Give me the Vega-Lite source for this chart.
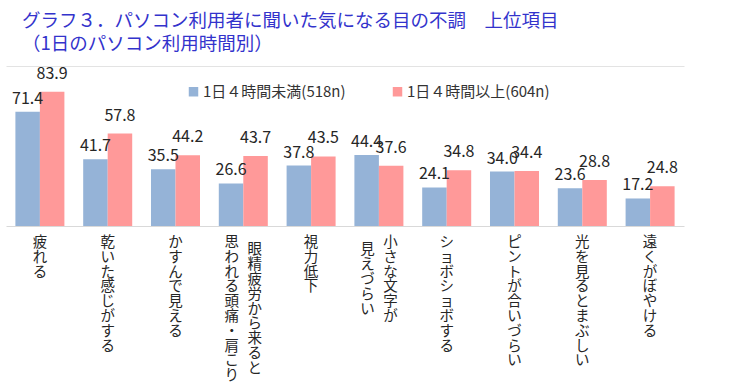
{
  "$schema": "https://vega.github.io/schema/vega-lite/v6.json",
  "width": 678,
  "height": 160,
  "autosize": {"type": "none"},
  "padding": {"left": 6, "top": 66, "right": 68, "bottom": 163},
  "background": "#ffffff",
  "config": {
    "view": {"stroke": null},
    "font": "Noto Sans CJK JP"
  },
  "title": {
    "text": ["グラフ３．パソコン利用者に聞いた気になる目の不調　上位項目", "（1日のパソコン利用時間別）"],
    "anchor": "start",
    "frame": "group",
    "font": "Noto Sans CJK JP",
    "fontSize": 18.5,
    "fontWeight": "normal",
    "color": "#3333cc",
    "lineHeight": 23,
    "baseline": "top",
    "dx": 16,
    "offset": 12
  },
  "datasets": {
    "bars": [
      {"cat": "疲れる", "group": "1日４時間未満(518n)", "value": 71.4},
      {"cat": "疲れる", "group": "1日４時間以上(604n)", "value": 83.9},
      {"cat": "乾いた感じがする", "group": "1日４時間未満(518n)", "value": 41.7},
      {"cat": "乾いた感じがする", "group": "1日４時間以上(604n)", "value": 57.8},
      {"cat": "かすんで見える", "group": "1日４時間未満(518n)", "value": 35.5},
      {"cat": "かすんで見える", "group": "1日４時間以上(604n)", "value": 44.2},
      {"cat": "眼精疲労から来ると思われる頭痛・肩こり", "group": "1日４時間未満(518n)", "value": 26.6},
      {"cat": "眼精疲労から来ると思われる頭痛・肩こり", "group": "1日４時間以上(604n)", "value": 43.7},
      {"cat": "視力低下", "group": "1日４時間未満(518n)", "value": 37.8},
      {"cat": "視力低下", "group": "1日４時間以上(604n)", "value": 43.5},
      {"cat": "小さな文字が見えづらい", "group": "1日４時間未満(518n)", "value": 44.4},
      {"cat": "小さな文字が見えづらい", "group": "1日４時間以上(604n)", "value": 37.6},
      {"cat": "ショボショボする", "group": "1日４時間未満(518n)", "value": 24.1},
      {"cat": "ショボショボする", "group": "1日４時間以上(604n)", "value": 34.8},
      {"cat": "ピントが合いづらい", "group": "1日４時間未満(518n)", "value": 34.0},
      {"cat": "ピントが合いづらい", "group": "1日４時間以上(604n)", "value": 34.4},
      {"cat": "光を見るとまぶしい", "group": "1日４時間未満(518n)", "value": 23.6},
      {"cat": "光を見るとまぶしい", "group": "1日４時間以上(604n)", "value": 28.8},
      {"cat": "遠くがぼやける", "group": "1日４時間未満(518n)", "value": 17.2},
      {"cat": "遠くがぼやける", "group": "1日４時間以上(604n)", "value": 24.8}
    ],
    "labels": [
      {"cat": "疲れる", "r": "疲れる", "l": ""},
      {"cat": "乾いた感じがする", "r": "乾いた感じがする", "l": ""},
      {"cat": "かすんで見える", "r": "かすんで見える", "l": ""},
      {"cat": "眼精疲労から来ると思われる頭痛・肩こり", "r": "眼精疲労から来ると", "l": "思われる頭痛・肩こり"},
      {"cat": "視力低下", "r": "視力低下", "l": ""},
      {"cat": "小さな文字が見えづらい", "r": "小さな文字が", "l": "見えづらい"},
      {"cat": "ショボショボする", "r": "ショボショボする", "l": ""},
      {"cat": "ピントが合いづらい", "r": "ピントが合いづらい", "l": ""},
      {"cat": "光を見るとまぶしい", "r": "光を見るとまぶしい", "l": ""},
      {"cat": "遠くがぼやける", "r": "遠くがぼやける", "l": ""}
    ]
  },
  "layer": [
    {
      "data": {"name": "bars"},
      "transform": [{"filter": "datum.group == '1日４時間未満(518n)'"}],
      "mark": {"type": "bar", "width": {"band": 0.5}, "xOffset": -12.25},
      "encoding": {
        "x": {
          "field": "cat", "type": "nominal", "sort": null,
          "scale": {"paddingInner": 0.277, "paddingOuter": 0.1385},
          "axis": {"labels": false, "ticks": false, "title": null, "domainColor": "#d9d9d9", "domainWidth": 1, "grid": false}
        },
        "y": {"field": "value", "type": "quantitative", "scale": {"domain": [0, 100], "nice": false}, "axis": {"grid": true, "values": [100], "gridColor": "#e3e3e3", "domain": false, "ticks": false, "labels": false, "title": null}},
        "color": {
          "field": "group", "type": "nominal", "sort": null,
          "scale": {"domain": ["1日４時間未満(518n)", "1日４時間以上(604n)"], "range": ["#95b3d7", "#ff9999"]},
          "legend": {
            "title": null,
            "orient": "none",
            "direction": "horizontal",
            "legendX": 180,
            "legendY": 18,
            "symbolType": "square",
            "symbolSize": 90,
            "symbolStrokeWidth": 0,
            "symbolOpacity": 1,
            "labelFont": "Noto Sans CJK JP",
            "labelFontSize": 15,
            "labelColor": "#333333",
            "labelOffset": 2,
            "labelLimit": 300,
            "columnPadding": 44
          }
        }
      }
    },
    {
      "data": {"name": "bars"},
      "transform": [{"filter": "datum.group == '1日４時間以上(604n)'"}],
      "mark": {"type": "bar", "width": {"band": 0.5}, "xOffset": 12.25},
      "encoding": {
        "x": {"field": "cat", "type": "nominal", "sort": null},
        "y": {"field": "value", "type": "quantitative"},
        "color": {"field": "group", "type": "nominal", "sort": null}
      }
    },
    {
      "data": {"name": "bars"},
      "transform": [{"filter": "datum.group == '1日４時間未満(518n)'"}],
      "mark": {"type": "text", "fontSize": 16, "color": "#262626", "baseline": "alphabetic", "dx": -12.25, "dy": -8},
      "encoding": {
        "x": {"field": "cat", "type": "nominal", "sort": null},
        "y": {"field": "value", "type": "quantitative"},
        "text": {"field": "value", "type": "quantitative", "format": ".1f"}
      }
    },
    {
      "data": {"name": "bars"},
      "transform": [{"filter": "datum.group == '1日４時間以上(604n)'"}],
      "mark": {"type": "text", "fontSize": 16, "color": "#262626", "baseline": "alphabetic", "dx": 12.25, "dy": -13},
      "encoding": {
        "x": {"field": "cat", "type": "nominal", "sort": null},
        "y": {"field": "value", "type": "quantitative"},
        "text": {"field": "value", "type": "quantitative", "format": ".1f"}
      }
    },
    {
      "data": {"name": "labels"},
      "transform": [{"filter": "datum.l == ''"}, {"calculate": "split(datum.r, '')", "as": "chars"}],
      "mark": {"type": "text", "fontSize": 14.5, "lineHeight": 14.8, "color": "#262626", "align": "center", "baseline": "top", "dy": 10},
      "encoding": {
        "x": {"field": "cat", "type": "nominal", "sort": null},
        "y": {"datum": 0},
        "text": {"field": "chars", "type": "nominal"}
      }
    },
    {
      "data": {"name": "labels"},
      "transform": [{"filter": "datum.l != '' && length(datum.r) >= length(datum.l)"}, {"calculate": "split(datum.r, '')", "as": "chars"}],
      "mark": {"type": "text", "fontSize": 14.5, "lineHeight": 14.8, "color": "#262626", "align": "center", "baseline": "top", "dx": 11.5, "dy": 10},
      "encoding": {
        "x": {"field": "cat", "type": "nominal", "sort": null},
        "y": {"datum": 0},
        "text": {"field": "chars", "type": "nominal"}
      }
    },
    {
      "data": {"name": "labels"},
      "transform": [{"filter": "datum.l != '' && length(datum.r) < length(datum.l)"}, {"calculate": "split(datum.r, '')", "as": "chars"}],
      "mark": {"type": "text", "fontSize": 14.5, "lineHeight": 14.8, "color": "#262626", "align": "center", "baseline": "top", "dx": 11.5, "dy": 17.4},
      "encoding": {
        "x": {"field": "cat", "type": "nominal", "sort": null},
        "y": {"datum": 0},
        "text": {"field": "chars", "type": "nominal"}
      }
    },
    {
      "data": {"name": "labels"},
      "transform": [{"filter": "datum.l != '' && length(datum.l) > length(datum.r)"}, {"calculate": "split(datum.l, '')", "as": "chars"}],
      "mark": {"type": "text", "fontSize": 14.5, "lineHeight": 14.8, "color": "#262626", "align": "center", "baseline": "top", "dx": -11.5, "dy": 10},
      "encoding": {
        "x": {"field": "cat", "type": "nominal", "sort": null},
        "y": {"datum": 0},
        "text": {"field": "chars", "type": "nominal"}
      }
    },
    {
      "data": {"name": "labels"},
      "transform": [{"filter": "datum.l != '' && length(datum.l) <= length(datum.r)"}, {"calculate": "split(datum.l, '')", "as": "chars"}],
      "mark": {"type": "text", "fontSize": 14.5, "lineHeight": 14.8, "color": "#262626", "align": "center", "baseline": "top", "dx": -11.5, "dy": 17.4},
      "encoding": {
        "x": {"field": "cat", "type": "nominal", "sort": null},
        "y": {"datum": 0},
        "text": {"field": "chars", "type": "nominal"}
      }
    }
  ]
}
